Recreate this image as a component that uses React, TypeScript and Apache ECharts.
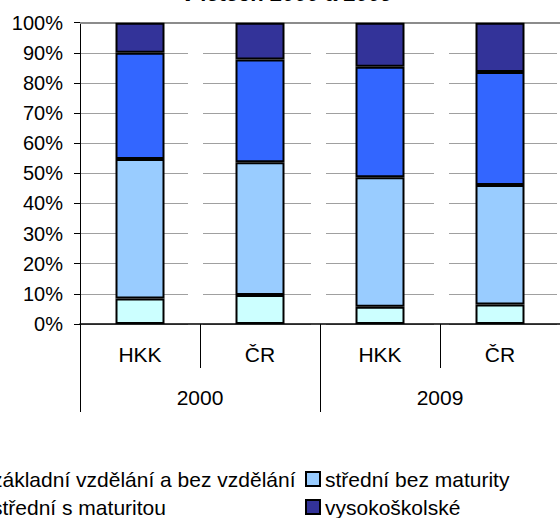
import React, { useEffect, useRef } from "react";
import * as echarts from "echarts";

const categories = ["HKK", "ČR", "HKK", "ČR"];
const years = ["2000", "2009"];
const seriesNames = [
  "základní vzdělání a bez vzdělání",
  "střední bez maturity",
  "střední s maturitou",
  "vysokoškolské",
];
const zakladni = [8.5, 9.6, 5.7, 6.5];
const stredniBez = [46.3, 44.1, 43.0, 39.6];
const stredniS = [35.2, 34.1, 36.7, 37.5];
const vysoko = [10.0, 12.2, 14.6, 16.4];
const colors = ["#CCFFFF", "#99CCFF", "#3366FF", "#333399"];
const titleText = "v letech 2000 a 2009";

const FONT = "Liberation Sans, Arial, sans-serif";

export default function App() {
  const ref = useRef<HTMLDivElement>(null);
  useEffect(() => {
    const chart = echarts.init(ref.current as HTMLDivElement, null, { renderer: "svg" });
    const values = [zakladni, stredniBez, stredniS, vysoko];
    const series: any[] = values.map((v, i) => ({
      name: seriesNames[i],
      type: "bar",
      stack: "total",
      xAxisIndex: 0,
      barWidth: 49,
      data: v,
      itemStyle: { color: colors[i], borderColor: "#000", borderWidth: 2 },
      ...(i === 0
        ? {
            markLine: {
              silent: true,
              symbol: "none",
              label: { show: false },
              lineStyle: { color: "#8c8c8c", width: 2, type: "solid" },
              data: [{ yAxis: 100 }],
              z: 1,
            },
          }
        : {}),
    }));
    chart.setOption({
      animation: false,
      backgroundColor: "#fff",
      textStyle: { fontFamily: FONT },
      graphic: [
        {
          type: "text",
          x: 287,
          y: 4,
          style: {
            text: titleText,
            font: "bold 22px " + FONT,
            fill: "#000",
            align: "center",
            verticalAlign: "bottom",
          },
        },
      ],
      grid: { left: 80, top: 22.7, width: 492, height: 301.3, containLabel: false },
      legend: [
        {
          data: [seriesNames[0], seriesNames[2]],
          orient: "vertical",
          left: -28,
          top: 468.5,
          padding: 0,
          itemWidth: 14,
          itemHeight: 14,
          itemGap: 7,
          icon: "rect",
          textStyle: { fontSize: 21, color: "#000", fontFamily: FONT },
        },
        {
          data: [seriesNames[1], seriesNames[3]],
          orient: "vertical",
          left: 305,
          top: 468.5,
          padding: 0,
          itemWidth: 14,
          itemHeight: 14,
          itemGap: 7,
          icon: "rect",
          textStyle: { fontSize: 21, color: "#000", fontFamily: FONT },
        },
      ],
      xAxis: [
        {
          type: "category",
          data: categories,
          position: "bottom",
          axisLine: { show: true, lineStyle: { color: "#000", width: 1.5 } },
          axisTick: { show: true, length: 44, lineStyle: { color: "#000", width: 1 } },
          axisLabel: { fontSize: 21, color: "#000", margin: 20, fontFamily: FONT },
          splitLine: { show: false },
        },
        {
          type: "category",
          data: years,
          position: "bottom",
          offset: 0,
          axisLine: { show: false },
          axisTick: { show: true, length: 88, lineStyle: { color: "#000", width: 1 } },
          axisLabel: { fontSize: 21, color: "#000", margin: 63, fontFamily: FONT },
          splitLine: { show: false },
        },
      ],
      yAxis: {
        type: "value",
        min: 0,
        max: 100,
        interval: 10,
        axisLine: { show: true, lineStyle: { color: "#000", width: 1 } },
        axisTick: { show: true, length: 6, lineStyle: { color: "#000" } },
        axisLabel: { formatter: "{value}%", fontSize: 20, color: "#000", margin: 17, fontFamily: FONT },
        splitLine: { show: true, lineStyle: { color: "#a0a0a0", width: 1, type: [108, 15], dashOffset: 0 } },
      },
      series,
    });
    return () => chart.dispose();
  }, []);
  return (
    <div
      ref={ref}
      style={{ position: "fixed", left: 0, top: 0, width: 560, height: 518, background: "#fff" }}
    />
  );
}
